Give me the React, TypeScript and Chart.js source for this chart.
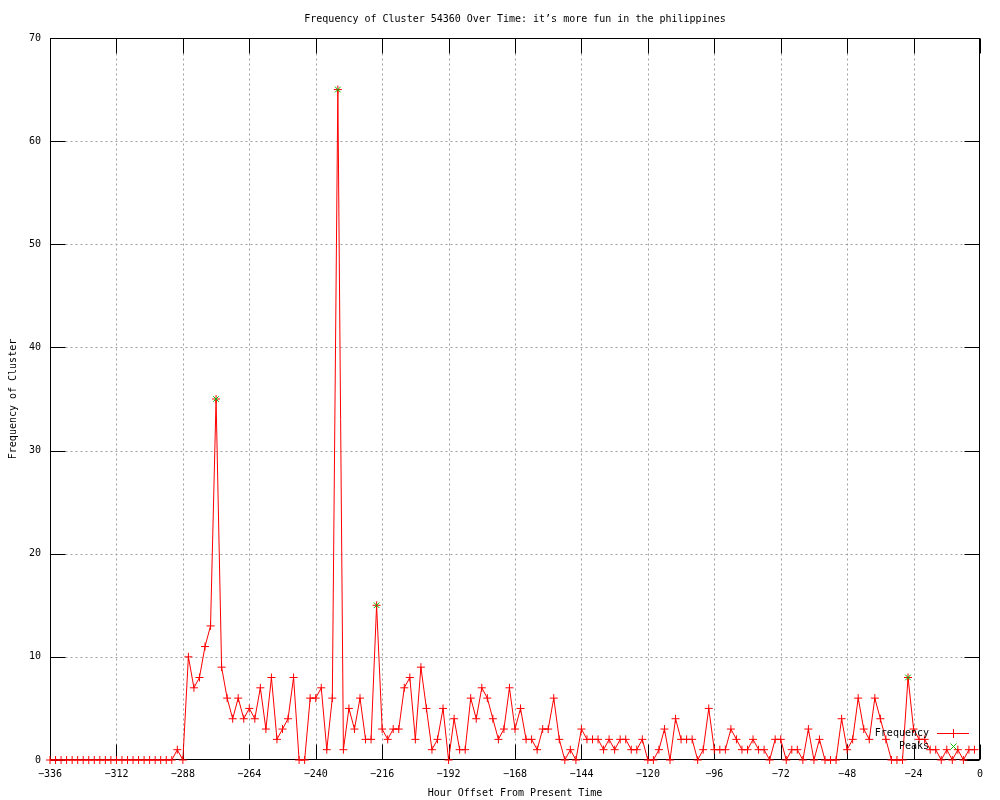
import { useEffect, useRef } from "react";
import { Chart, registerables } from "chart.js";

Chart.register(...registerables);

const TITLE = "Frequency of Cluster 54360 Over Time: it\u2019s more fun in the philippines";
const X_TITLE = "Hour Offset From Present Time";
const Y_TITLE = "Frequency of Cluster";

const HOURS = [
  -336, -334, -332, -330, -328, -326, -324, -322, -320, -318,
  -316, -314, -312, -310, -308, -306, -304, -302, -300, -298,
  -296, -294, -292, -290, -288, -286, -284, -282, -280, -278,
  -276, -274, -272, -270, -268, -266, -264, -262, -260, -258,
  -256, -254, -252, -250, -248, -246, -244, -242, -240, -238,
  -236, -234, -232, -230, -228, -226, -224, -222, -220, -218,
  -216, -214, -212, -210, -208, -206, -204, -202, -200, -198,
  -196, -194, -192, -190, -188, -186, -184, -182, -180, -178,
  -176, -174, -172, -170, -168, -166, -164, -162, -160, -158,
  -156, -154, -152, -150, -148, -146, -144, -142, -140, -138,
  -136, -134, -132, -130, -128, -126, -124, -122, -120, -118,
  -116, -114, -112, -110, -108, -106, -104, -102, -100, -98,
  -96, -94, -92, -90, -88, -86, -84, -82, -80, -78,
  -76, -74, -72, -70, -68, -66, -64, -62, -60, -58,
  -56, -54, -52, -50, -48, -46, -44, -42, -40, -38,
  -36, -34, -32, -30, -28, -26, -24, -22, -20, -18,
  -16, -14, -12, -10, -8, -6, -4, -2,
];

const FREQUENCY = [
  0, 0, 0, 0, 0, 0, 0, 0, 0, 0,
  0, 0, 0, 0, 0, 0, 0, 0, 0, 0,
  0, 0, 0, 1, 0, 10, 7, 8, 11, 13,
  35, 9, 6, 4, 6, 4, 5, 4, 7, 3,
  8, 2, 3, 4, 8, 0, 0, 6, 6, 7,
  1, 6, 65, 1, 5, 3, 6, 2, 2, 15,
  3, 2, 3, 3, 7, 8, 2, 9, 5, 1,
  2, 5, 0, 4, 1, 1, 6, 4, 7, 6,
  4, 2, 3, 7, 3, 5, 2, 2, 1, 3,
  3, 6, 2, 0, 1, 0, 3, 2, 2, 2,
  1, 2, 1, 2, 2, 1, 1, 2, 0, 0,
  1, 3, 0, 4, 2, 2, 2, 0, 1, 5,
  1, 1, 1, 3, 2, 1, 1, 2, 1, 1,
  0, 2, 2, 0, 1, 1, 0, 3, 0, 2,
  0, 0, 0, 4, 1, 2, 6, 3, 2, 6,
  4, 2, 0, 0, 0, 8, 3, 2, 2, 1,
  1, 0, 1, 0, 1, 0, 1, 1,
];

const PEAK_HOURS = [-276, -232, -218, -26];
const PEAK_VALUES = [35, 65, 15, 8];

const X_TICKS = [-336, -312, -288, -264, -240, -216, -192, -168, -144, -120, -96, -72, -48, -24, 0];
const Y_TICKS = [0, 10, 20, 30, 40, 50, 60, 70];

const SERIES_NAMES = ["Frequency", "Peaks"];
const RED = "#ff0000";
const GREEN = "#00c000";
const FONT = '10px "DejaVu Sans Mono", monospace';
const TICK_LEN = 15;

const gnuplotPlugin = {
  id: "gnuplotLook",
  beforeDraw(chart: any) {
    const { ctx, width, height } = chart;
    ctx.save();
    ctx.fillStyle = "#ffffff";
    ctx.fillRect(0, 0, width, height);
    ctx.restore();
  },
  beforeDatasetsDraw(chart: any) {
    const { ctx, chartArea } = chart;
    const { left, right, top, bottom } = chartArea;
    const xs = chart.scales.x;
    const ys = chart.scales.y;
    const L = Math.round(left) + 0.5;
    const R = Math.round(right) - 0.5;
    const T = Math.round(top) + 0.5;
    const B = Math.round(bottom) - 0.5;
    ctx.save();
    ctx.lineWidth = 1;
    ctx.strokeStyle = "#a0a0a0";
    ctx.setLineDash([2, 3]);
    for (const v of X_TICKS) {
      const px = Math.round(xs.getPixelForValue(v)) + 0.5;
      if (px <= L + 1 || px >= R - 1) continue;
      ctx.beginPath();
      ctx.moveTo(px, T);
      ctx.lineTo(px, B);
      ctx.stroke();
    }
    for (const v of Y_TICKS) {
      const py = Math.round(ys.getPixelForValue(v)) + 0.5;
      if (py <= T + 1 || py >= B - 1) continue;
      ctx.beginPath();
      ctx.moveTo(L, py);
      ctx.lineTo(R, py);
      ctx.stroke();
    }
    ctx.setLineDash([]);
    ctx.strokeStyle = "#000000";
    ctx.strokeRect(L, T, R - L, B - T);
    ctx.beginPath();
    for (const v of X_TICKS) {
      const px = Math.round(xs.getPixelForValue(v)) + 0.5;
      ctx.moveTo(px, B);
      ctx.lineTo(px, B - TICK_LEN);
      ctx.moveTo(px, T);
      ctx.lineTo(px, T + TICK_LEN);
    }
    for (const v of Y_TICKS) {
      const py = Math.round(ys.getPixelForValue(v)) + 0.5;
      ctx.moveTo(L, py);
      ctx.lineTo(L + TICK_LEN, py);
      ctx.moveTo(R, py);
      ctx.lineTo(R - TICK_LEN, py);
    }
    ctx.stroke();
    ctx.fillStyle = "#000000";
    ctx.font = FONT;
    ctx.textAlign = "center";
    ctx.textBaseline = "middle";
    for (const v of X_TICKS) {
      const px = xs.getPixelForValue(v);
      ctx.fillText(String(v).replace("-", "\u2212"), px, bottom + 14);
    }
    ctx.textAlign = "right";
    for (const v of Y_TICKS) {
      const py = ys.getPixelForValue(v);
      ctx.fillText(String(v), left - 9, py);
    }
    ctx.textAlign = "center";
    ctx.fillText(TITLE, (left + right) / 2, 19);
    ctx.fillText(X_TITLE, (left + right) / 2, bottom + 33);
    ctx.save();
    ctx.translate(13, (top + bottom) / 2);
    ctx.rotate(-Math.PI / 2);
    ctx.fillText(Y_TITLE, 0, 0);
    ctx.restore();
    ctx.restore();
  },
  afterDatasetsDraw(chart: any) {
    const { ctx, chartArea } = chart;
    const { right, bottom } = chartArea;
    const textRight = Math.round(right - 51);
    const sampleL = Math.round(right - 43);
    const sampleR = Math.round(right - 11);
    const sampleC = Math.round((sampleL + sampleR) / 2);
    const y1 = Math.round(bottom - 27);
    const y2 = Math.round(bottom - 14);
    ctx.save();
    ctx.globalAlpha = 1;
    ctx.setLineDash([]);
    ctx.font = FONT;
    ctx.fillStyle = "#000000";
    ctx.textAlign = "right";
    ctx.textBaseline = "middle";
    ctx.fillText(SERIES_NAMES[0], textRight, y1);
    ctx.fillText(SERIES_NAMES[1], textRight, y2);
    ctx.fillStyle = RED;
    ctx.fillRect(sampleL, y1, sampleR - sampleL, 1);
    ctx.fillRect(sampleC, y1 - 4, 1, 9);
    ctx.fillRect(sampleC - 4, y1, 9, 1);
    ctx.lineWidth = 1;
    ctx.strokeStyle = GREEN;
    ctx.beginPath();
    ctx.moveTo(sampleC + 0.5 - 3, y2 + 0.5 - 3);
    ctx.lineTo(sampleC + 0.5 + 3, y2 + 0.5 + 3);
    ctx.moveTo(sampleC + 0.5 + 3, y2 + 0.5 - 3);
    ctx.lineTo(sampleC + 0.5 - 3, y2 + 0.5 + 3);
    ctx.stroke();
    ctx.restore();
  },
};

export default function App() {
  const canvasRef = useRef<HTMLCanvasElement | null>(null);

  useEffect(() => {
    const canvas = canvasRef.current;
    if (!canvas) return;
    const chart = new Chart(canvas, {
      type: "line",
      data: {
        datasets: [
          {
            label: SERIES_NAMES[1],
            data: PEAK_HOURS.map((h, i) => ({ x: h, y: PEAK_VALUES[i] })),
            showLine: false,
            borderColor: GREEN,
            backgroundColor: GREEN,
            pointStyle: "crossRot",
            pointRadius: 4,
            pointBorderWidth: 1,
            pointBorderColor: GREEN,
            pointHoverRadius: 0,
            clip: false,
          } as any,
          {
            label: SERIES_NAMES[0],
            data: HOURS.map((h, i) => ({ x: h, y: FREQUENCY[i] })),
            borderColor: RED,
            backgroundColor: RED,
            borderWidth: 1,
            tension: 0,
            fill: false,
            pointStyle: "cross",
            pointRadius: 4,
            pointBorderWidth: 1,
            pointBorderColor: RED,
            pointHoverRadius: 0,
            clip: false,
          } as any,
        ],
      },
      options: {
        responsive: false,
        animation: false,
        devicePixelRatio: 1,
        events: [],
        layout: { padding: { left: 50, right: 20, top: 38, bottom: 40 } },
        plugins: {
          legend: { display: false },
          tooltip: { enabled: false },
          title: { display: false },
        },
        scales: {
          x: { type: "linear", display: false, min: -336, max: 0 },
          y: { type: "linear", display: false, min: 0, max: 70 },
        },
      },
      plugins: [gnuplotPlugin],
    });
    return () => chart.destroy();
  }, []);

  return (
    <div style={{ position: "absolute", left: 0, top: 0, width: 1000, height: 800, background: "#fff" }}>
      <canvas ref={canvasRef} width={1000} height={800} style={{ display: "block", width: 1000, height: 800 }} />
    </div>
  );
}
